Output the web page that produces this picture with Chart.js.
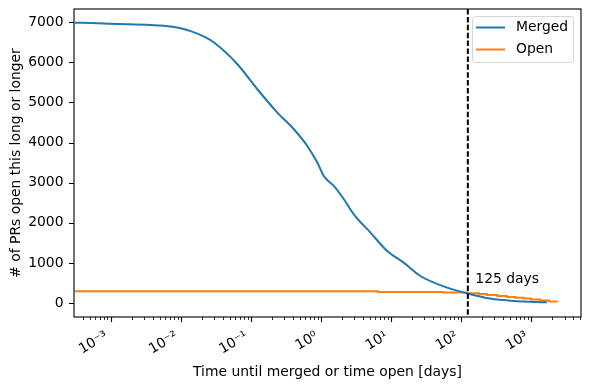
<!DOCTYPE html>
<html>
<head>
<meta charset="utf-8">
<script src="https://cdn.jsdelivr.net/npm/chart.js@4.4.1/dist/chart.umd.min.js"></script>
<style>
  html, body { margin: 0; padding: 0; background: #fff; }
  #wrap { width: 590px; height: 389px; }
</style>
</head>
<body>
<div id="wrap"><canvas id="chart" width="590" height="389"></canvas></div>
<script>
// merged PRs: days open vs # still open that long or longer
const mergedDays  = [0.00031, 0.00065, 0.001, 0.0037, 0.0072, 0.0100, 0.0139, 0.0216, 0.0299, 0.0644, 0.124, 0.239, 0.412, 0.640, 0.889, 1.10, 1.53, 2.13, 2.95, 5.10, 8.83, 15.2, 26.3, 63.2, 122, 261, 561, 1680];
const mergedCount = [6990, 6975, 6960, 6930, 6895, 6848, 6778, 6640, 6494, 5953, 5329, 4748, 4332, 3915, 3501, 3167, 2918, 2586, 2212, 1756, 1297, 1007, 673, 384, 242, 110, 50, 17];

// open PRs (step curve)
const openDays  = [0.00031, 6.5, 56, 122, 180, 234, 330, 452, 600, 780, 1000, 1349, 1800, 2333];
const openCount = [290, 275, 259, 242, 225, 200, 175, 150, 130, 110, 90, 60, 40, 17];

const cutoffDays = 125;
const cutoffLabel = '125 days';
const cutoffLabelPos = [160, 500];

const xMajorTicks = [0.001, 0.01, 0.1, 1, 10, 100, 1000];
const xTickLabels = ['10\u207B\u00B3', '10\u207B\u00B2', '10\u207B\u00B9', '10\u2070', '10\u00B9', '10\u00B2', '10\u00B3'];
const yTicks = [0, 1000, 2000, 3000, 4000, 5000, 6000, 7000];

const xMin = 0.00031, xMax = 5150;
const yMin = -349, yMax = 7330;

const FONT = "'DejaVu Sans', sans-serif";
Chart.defaults.font.family = FONT;
Chart.defaults.font.size = 13.9;
Chart.defaults.color = '#000';

// minor log ticks 2..9 x 10^n inside the axis range
const xMinorTicks = [];
for (let e = -4; e <= 3; e++) {
  for (let m = 2; m <= 9; m++) {
    const v = m * Math.pow(10, e);
    if (v > xMin && v < xMax) xMinorTicks.push(v);
  }
}

const axisDecor = {
  id: 'axisDecor',
  afterDraw(chart) {
    const {ctx, chartArea: a, scales: {x, y}} = chart;
    ctx.save();

    // cutoff line
    const cx = x.getPixelForValue(cutoffDays);
    ctx.strokeStyle = '#000';
    ctx.lineWidth = 2;
    ctx.setLineDash([5.5, 2.4]);
    ctx.beginPath();
    ctx.moveTo(cx, a.top);
    ctx.lineTo(cx, a.bottom);
    ctx.stroke();
    ctx.setLineDash([]);

    ctx.fillStyle = '#000';
    ctx.font = '13.9px ' + FONT;
    ctx.textAlign = 'left';
    ctx.textBaseline = 'alphabetic';
    ctx.fillText(cutoffLabel, x.getPixelForValue(cutoffLabelPos[0]), y.getPixelForValue(cutoffLabelPos[1]));

    // spines
    ctx.lineWidth = 1.1;
    ctx.strokeRect(a.left, a.top, a.right - a.left, a.bottom - a.top);

    // tick marks
    ctx.beginPath();
    xMajorTicks.forEach(v => {
      const px = Math.round(x.getPixelForValue(v)) + 0.5;
      ctx.moveTo(px, a.bottom); ctx.lineTo(px, a.bottom + 5);
    });
    yTicks.forEach(v => {
      const py = Math.round(y.getPixelForValue(v)) + 0.5;
      ctx.moveTo(a.left, py); ctx.lineTo(a.left - 5, py);
    });
    ctx.stroke();
    ctx.lineWidth = 0.8;
    ctx.beginPath();
    xMinorTicks.forEach(v => {
      const px = Math.round(x.getPixelForValue(v)) + 0.5;
      ctx.moveTo(px, a.bottom); ctx.lineTo(px, a.bottom + 3);
    });
    ctx.stroke();

    // legend
    const lx = 472, ly = 16, lw = 101, lh = 46;
    ctx.fillStyle = 'rgba(255,255,255,0.8)';
    ctx.strokeStyle = '#d6d6d6';
    ctx.lineWidth = 1;
    ctx.beginPath();
    ctx.roundRect(lx + 0.5, ly + 0.5, lw, lh, 3);
    ctx.fill();
    ctx.stroke();
    ctx.textBaseline = 'middle';
    chart.data.datasets.forEach((ds, i) => {
      const ry = ly + 11.5 + i * 22;
      ctx.strokeStyle = ds.borderColor;
      ctx.lineWidth = 2;
      ctx.beginPath();
      ctx.moveTo(lx + 4, ry); ctx.lineTo(lx + 33, ry);
      ctx.stroke();
      ctx.fillStyle = '#000';
      ctx.fillText(ds.label, lx + 44, ry);
    });
    ctx.restore();
  }
};

new Chart(document.getElementById('chart'), {
  type: 'line',
  data: {
    datasets: [{
      label: 'Merged',
      data: mergedDays.map((d, i) => ({x: d, y: mergedCount[i]})),
      borderColor: '#1f77b4',
      borderWidth: 2,
      pointRadius: 0,
      cubicInterpolationMode: 'monotone'
    }, {
      label: 'Open',
      data: openDays.map((d, i) => ({x: d, y: openCount[i]})),
      borderColor: '#ff7f0e',
      borderWidth: 2,
      pointRadius: 0,
      stepped: 'before'
    }]
  },
  options: {
    responsive: false,
    animation: false,
    devicePixelRatio: 1,
    layout: { padding: { top: 9, right: 9, left: 0, bottom: 0 } },
    plugins: { legend: { display: false }, tooltip: { enabled: false } },
    scales: {
      x: {
        type: 'logarithmic',
        min: xMin, max: xMax,
        afterBuildTicks: s => { s.ticks = xMajorTicks.concat(xMinorTicks).sort((a, b) => a - b).map(v => ({value: v})); },
        afterFit: s => { s.height = 72; s.paddingLeft = 0; s.paddingRight = 0; },
        border: { display: false },
        grid: { display: true, drawOnChartArea: false, drawTicks: true, tickLength: 5, color: 'rgba(0,0,0,0)' },
        ticks: {
          autoSkip: false, maxRotation: 30, minRotation: 30, padding: 6, labelOffset: -4,
          callback: v => { const i = xMajorTicks.indexOf(v); return i >= 0 ? xTickLabels[i] : ''; }
        },
        title: { display: true, text: 'Time until merged or time open [days]', padding: { top: 0, bottom: 8 } }
      },
      y: {
        min: yMin, max: yMax,
        afterBuildTicks: s => { s.ticks = yTicks.map(v => ({value: v})); },
        afterFit: s => { s.width = 74; s.paddingTop = 0; s.paddingBottom = 0; },
        border: { display: false },
        grid: { display: true, drawOnChartArea: false, drawTicks: true, tickLength: 5, color: 'rgba(0,0,0,0)' },
        ticks: { padding: 5.5, callback: v => String(v) },
        title: { display: true, text: '# of PRs open this long or longer', padding: { top: 8, bottom: 0 } }
      }
    }
  },
  plugins: [axisDecor]
});
</script>
</body>
</html>
